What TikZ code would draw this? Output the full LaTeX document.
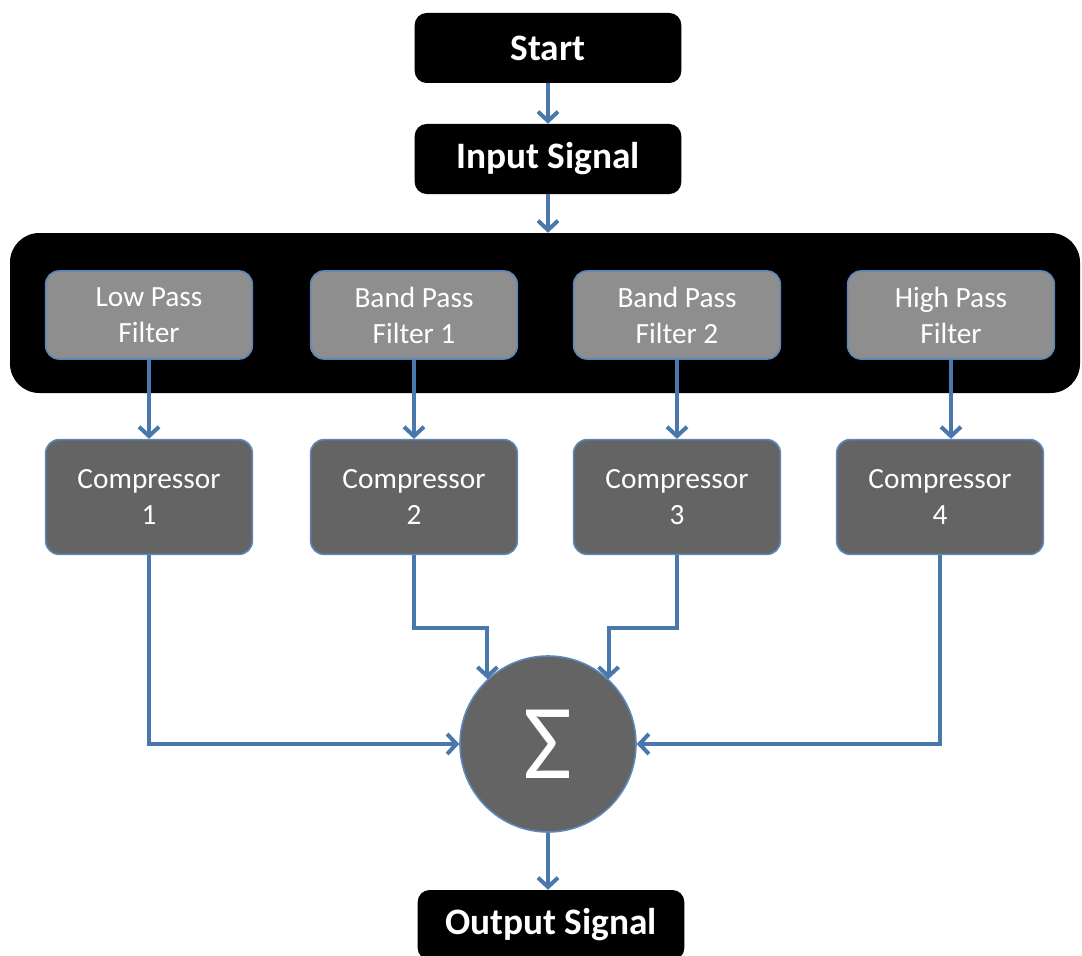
\documentclass[tikz,border=0pt]{standalone}
\usepackage{fontspec}
\setmainfont{Carlito}
\usetikzlibrary{arrows.meta}
\definecolor{wire}{HTML}{4A78AB}
\definecolor{rim}{HTML}{5B87B9}
\definecolor{filtgray}{HTML}{8E8E8E}
\definecolor{compgray}{HTML}{646464}

\begin{document}
\begin{tikzpicture}[x=0.75pt, y=-0.75pt,
    term/.style={fill=black, rounded corners=9pt, text=white, inner sep=0pt,
      minimum width=200pt, minimum height=52.5pt,
      font=\fontsize{28}{32}\selectfont\bfseries},
    filt/.style={fill=filtgray, draw=rim, line width=1.2pt, rounded corners=10pt,
      text=white, align=center, inner sep=0pt,
      minimum width=155pt, minimum height=66pt,
      font=\fontsize{22}{27}\selectfont},
    comp/.style={filt, fill=compgray, minimum height=86pt},
    link/.style={draw=wire, line width=3pt,
      -{Straight Barb[length=7pt, width=15pt]}}]
    \useasboundingbox (0,0) rectangle (1082,956);
    \clip (0,0) rectangle (1082,956);
    % start and input
    \node[term] (start) at (548,48) {Start};
    \node[term] (in) at (548,159) {Input Signal};
    % filter bank
    \node[fill=black, rounded corners=22pt, minimum width=802.5pt,
      minimum height=120pt, inner sep=0pt] (bank) at (545,313) {};
    \node[filt] (lp) at (149,315) {Low Pass\\Filter};
    \node[filt] (bp1) at (414,315) {Band Pass\\Filter 1};
    \node[filt] (bp2) at (677,315) {Band Pass\\Filter 2};
    \node[filt] (hp) at (951,315) {High Pass\\Filter};
    % compressors
    \node[comp] (c1) at (149,497) {Compressor\\1};
    \node[comp] (c2) at (414,497) {Compressor\\2};
    \node[comp] (c3) at (677,497) {Compressor\\3};
    \node[comp] (c4) at (940,497) {Compressor\\4};
    % summing point and output
    \node[circle, fill=compgray, draw=rim, line width=1.2pt, minimum size=132pt,
      inner sep=0pt, text=white, font=\fontsize{80}{86}\selectfont]
      (sum) at (548,744) {Σ};
    \node[term] (out) at (551,925) {Output Signal};
    % connectors
    \draw[link] (start) -- (in);
    \draw[link] (in) -- (in.south |- bank.north);
    \draw[link] (lp) -- (lp.south |- c1.north);
    \draw[link] (bp1) -- (bp1.south |- c2.north);
    \draw[link] (bp2) -- (bp2.south |- c3.north);
    \draw[link] (hp) -- (hp.south |- c4.north);
    \draw[link] (c1.south) |- (sum.west);
    \draw[link] (c2.south) -- ++(0,73) -| (sum.133);
    \draw[link] (c3.south) -- ++(0,73) -| (sum.47);
    \draw[link] (c4.south) |- (sum.east);
    \draw[link] (sum) -- (sum.south |- out.north);
\end{tikzpicture}
\end{document}
